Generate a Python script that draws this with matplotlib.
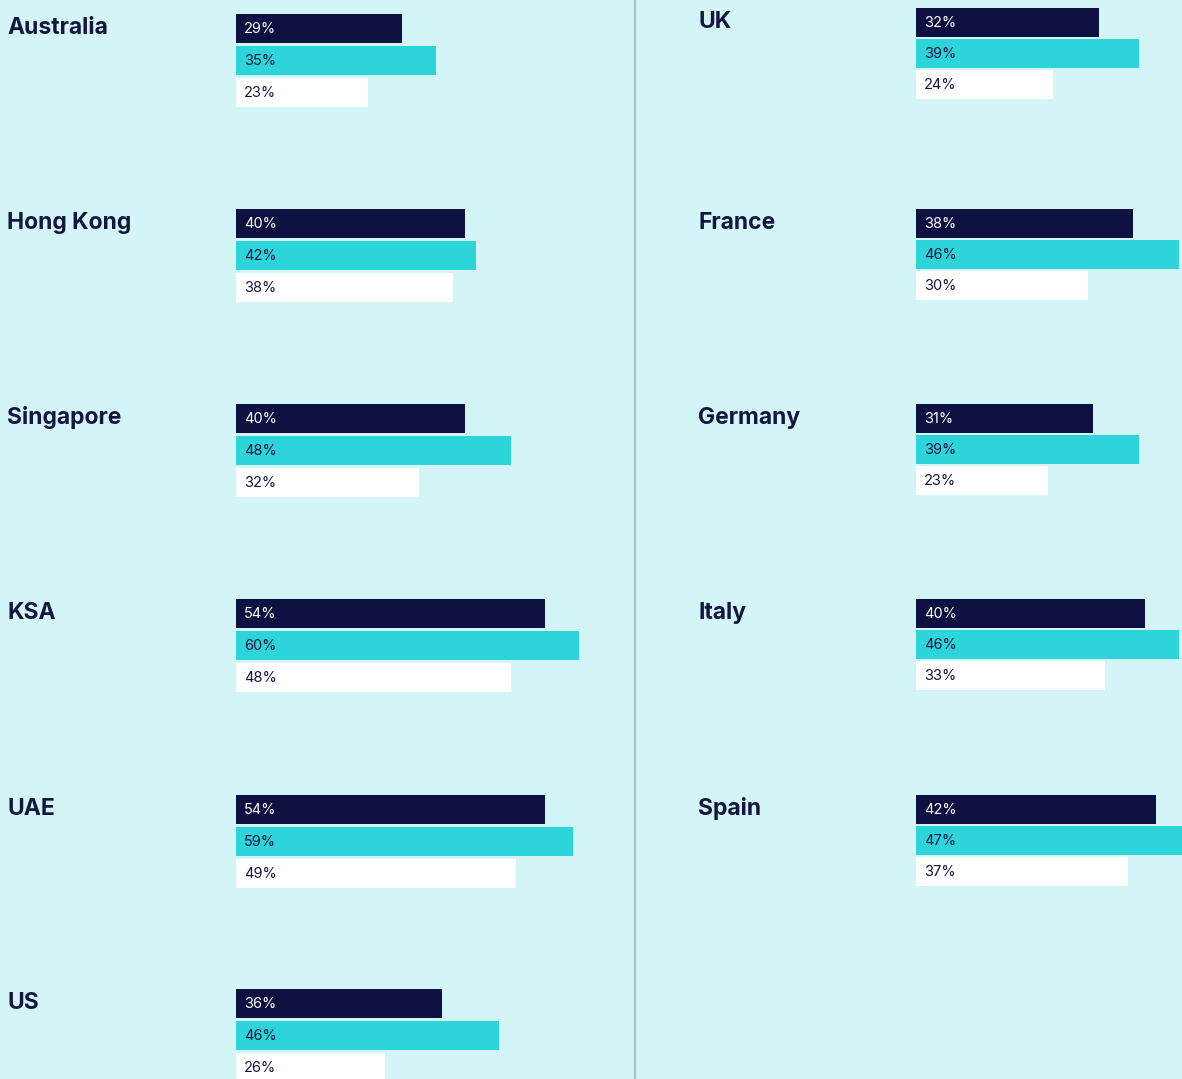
import matplotlib.pyplot as plt

plt.rcParams['font.family'] = ['Inter', 'DejaVu Sans']

# data
left_countries = ['Australia', 'Hong Kong', 'Singapore', 'KSA', 'UAE', 'US']
left_dark = [29, 40, 40, 54, 54, 36]
left_cyan = [35, 42, 48, 60, 59, 46]
left_white = [23, 38, 32, 48, 49, 26]

right_countries = ['UK', 'France', 'Germany', 'Italy', 'Spain']
right_dark = [32, 38, 31, 40, 42]
right_cyan = [39, 46, 39, 46, 47]
right_white = [24, 30, 23, 33, 37]

# style / layout
W, H = 1182, 1079
BG = '#d4f5f7'
NAVY = '#0d1040'
CYAN = '#2dd4da'
TEXT = '#14163f'
PX_PER_PCT = 5.72

fig = plt.figure(figsize=(W / 100, H / 100), dpi=100)
fig.patch.set_facecolor(BG)


def panel(x0, x1, bar_x, tops, pitch, label_x, countries, dark, cyan, white):
    ax = fig.add_axes([x0 / W, 0, (x1 - x0) / W, 1])
    ax.set_facecolor(BG)
    ax.set_xlim((x0 - bar_x) / PX_PER_PCT, (x1 - bar_x) / PX_PER_PCT)
    ax.set_ylim(H, 0)
    ax.axis('off')
    for i, name in enumerate(countries):
        top = tops[i]
        series = [(dark[i], NAVY, 'white'), (cyan[i], CYAN, TEXT), (white[i], 'white', TEXT)]
        for j, (val, fc, tc) in enumerate(series):
            y = top + j * pitch
            ax.barh(y, val, height=29, align='edge', color=fc, linewidth=0)
            ax.text(8 / PX_PER_PCT, y + 15, f'{val}%', color=tc, fontsize=10.5,
                    va='center', ha='left')
        ax.text((label_x - bar_x) / PX_PER_PCT, top + 20, name, color=TEXT,
                fontsize=16.5, fontweight='bold', va='baseline', ha='left')
    return ax


panel(0, 634, 236, [14, 209, 404, 599, 795, 989], 32, 7,
      left_countries, left_dark, left_cyan, left_white)
panel(636, W, 916, [8, 209, 404, 599, 795], 31, 698,
      right_countries, right_dark, right_cyan, right_white)

# divider
fig.add_artist(plt.Line2D([634.5 / W, 634.5 / W], [0, 1], color='#a9bfcc',
                          linewidth=1.5, transform=fig.transFigure))

plt.savefig('out.png', dpi=100, facecolor=BG)
